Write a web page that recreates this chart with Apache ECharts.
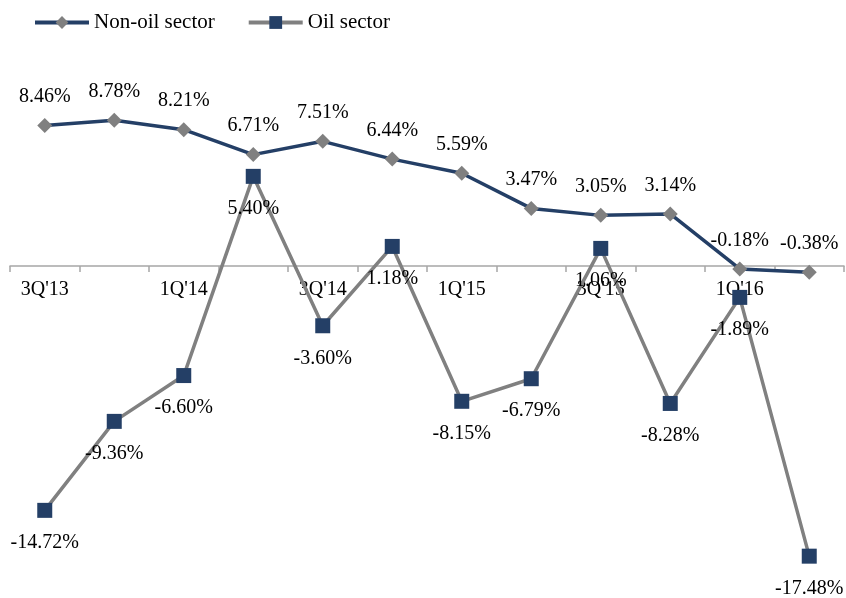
<!DOCTYPE html>
<html>
<head>
<meta charset="utf-8">
<style>
  html, body { margin: 0; padding: 0; background: #fff; }
  #chart { width: 846px; height: 598px; }
</style>
<script src="https://cdn.jsdelivr.net/npm/echarts@6/dist/echarts.min.js"></script>
</head>
<body>
<div id="chart"></div>
<script>
// Quarterly growth rates, in percent
const quarters = ["3Q'13", "4Q'13", "1Q'14", "2Q'14", "3Q'14", "4Q'14",
                  "1Q'15", "2Q'15", "3Q'15", "4Q'15", "1Q'16", "2Q'16"];
const nonOilSector = [8.46, 8.78, 8.21, 6.71, 7.51, 6.44, 5.59, 3.47, 3.05, 3.14, -0.18, -0.38];
const oilSector = [-14.72, -9.36, -6.60, 5.40, -3.60, 1.18, -8.15, -6.79, 1.06, -8.28, -1.89, -17.48];

const FONT = "'Liberation Serif', 'DejaVu Serif', serif";
const NAVY = '#243F66';
const GREY = '#808080';

const fmt = p => p.value.toFixed(2) + '%';

const chart = echarts.init(document.getElementById('chart'));
chart.setOption({
  animation: false,
  backgroundColor: '#fff',
  textStyle: { fontFamily: FONT, color: '#000' },
  legend: {
    left: 33, top: 12, padding: 0,
    itemWidth: 54, itemHeight: 16, itemGap: 32,
    lineStyle: { width: 4 },
    textStyle: { fontFamily: FONT, fontSize: 21, color: '#000' },
    data: ['Non-oil sector', 'Oil sector']
  },
  grid: [
    // plotting area (y from -20% to 10%)
    { left: 10, right: 2, top: 100, bottom: 0 },
    // holds the visible category axis, whose bottom edge sits on the 0% line
    { left: 10, right: 2, top: 100, height: 166 }
  ],
  xAxis: [
    { type: 'category', gridIndex: 0, data: quarters, boundaryGap: true, show: false },
    {
      type: 'category', gridIndex: 1, data: quarters, boundaryGap: true, position: 'bottom',
      axisLine: { lineStyle: { color: '#A6A6A6', width: 1.5 } },
      axisTick: { show: true, interval: 0, length: 6, lineStyle: { color: '#A6A6A6', width: 1.5 } },
      axisLabel: { interval: 1, margin: 14, fontFamily: FONT, fontSize: 20, color: '#000' }
    }
  ],
  yAxis: [
    { type: 'value', gridIndex: 0, min: -20, max: 10, show: false, splitLine: { show: false } },
    { type: 'value', gridIndex: 1, show: false, splitLine: { show: false } }
  ],
  series: [
    {
      name: 'Non-oil sector', type: 'line', xAxisIndex: 0, yAxisIndex: 0,
      data: nonOilSector,
      symbol: 'diamond', symbolSize: 15,
      lineStyle: { color: NAVY, width: 3.5 },
      itemStyle: { color: GREY, borderWidth: 0 },
      label: { show: true, position: 'top', distance: 11, formatter: fmt,
               fontFamily: FONT, fontSize: 20, color: '#000' },
      z: 3
    },
    {
      name: 'Oil sector', type: 'line', xAxisIndex: 0, yAxisIndex: 0,
      data: oilSector,
      symbol: 'rect', symbolSize: 15,
      lineStyle: { color: GREY, width: 3.5 },
      itemStyle: { color: NAVY, borderWidth: 0 },
      label: { show: true, position: 'bottom', distance: 15, formatter: fmt,
               fontFamily: FONT, fontSize: 20, color: '#000' },
      z: 2
    }
  ]
});
</script>
</body>
</html>
